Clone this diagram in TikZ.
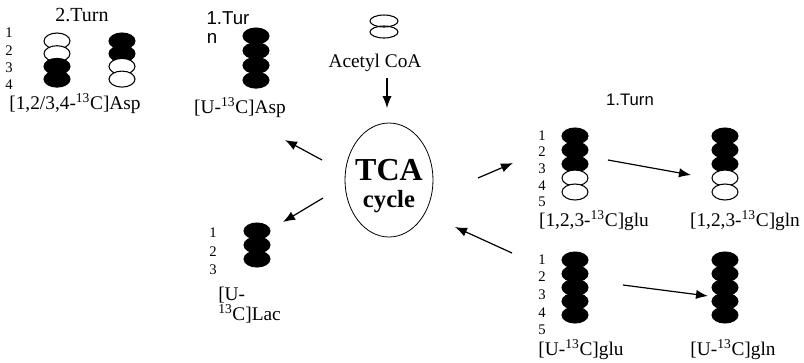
\documentclass[tikz,border=0pt]{standalone}
\usepackage{fontspec}
\setmainfont{Liberation Serif}
\setsansfont{Liberation Sans}
\usepackage{tikz}
\usetikzlibrary{arrows.meta,shapes.geometric}
\newcommand{\iso}{\textsuperscript{13}}
\newcommand{\chain}[4]{\foreach \f [count=\i from 0] in {#4} {\draw[atom,fill=\f] (#1,#2+\i*#3) ellipse (13 and 8);}}
\tikzset{
  atom/.style={draw=black,line width=0.8pt},
  arr/.style={-{Latex[length=9pt,width=7pt]},line width=0.9pt},
  lbl/.style={font=\fontsize{14.5}{15}\selectfont,inner sep=0pt},
  num/.style={font=\fontsize{11}{13}\selectfont,inner sep=0pt},
  turn/.style={font=\sffamily\fontsize{13}{15}\selectfont,inner sep=0pt}
}

\begin{document}
\begin{tikzpicture}[x=0.75pt,y=-0.75pt]
\useasboundingbox (0,0) rectangle (804,362);
\node[lbl,font=\rmfamily\fontsize{15}{17}\selectfont] (turnTwo) at (82,15) {2.Turn};
\foreach \n/\y in {1/33,2/51,3/68,4/85} {\node[num] (asp-\n) at (9,\y) {\n};}
\chain{57}{41}{12.7}{white,white,black,black} \chain{122}{41}{12.7}{black,black,white,white}
\node[lbl] (aspTwoLbl) at (75,104) {[1,2/3,4-\iso C]Asp};
\node[turn,font=\sffamily\fontsize{14}{15}\selectfont] (turnOneA) at (228,18) {1.Tur}; \node[turn,font=\sffamily\fontsize{14}{15}\selectfont] (turnOneB) at (212,38) {n};
\chain{256}{36}{14.7}{black,black,black,black}
\node[lbl] (aspULbl) at (240,108) {[U-\iso C]Asp};
\draw[atom] (384,21) ellipse (14 and 6); \draw[atom] (384,32) ellipse (14 and 6);
\node[lbl] (acetyl) at (375,63) {Acetyl CoA};
\node[draw,ellipse,line width=0.6pt,minimum width=66pt,minimum height=85.5pt] (tca) at (389,180) {};
\node[font=\bfseries\fontsize{24}{26}\selectfont,inner sep=0pt] (tcaTop) at (389,170) {TCA};
\node[font=\bfseries\fontsize{18.5}{20}\selectfont,inner sep=0pt] (tcaBot) at (389,202) {cycle};
\foreach \n/\y in {1/233,2/252,3/270} {\node[num] (lac-\n) at (213,\y) {\n};}
\chain{257}{231}{14}{black,black,black}
\node[lbl,align=left,anchor=west] (lacLbl) at (218,305) {[U-\\\iso C]Lac};
\node[turn,font=\sffamily\fontsize{12.5}{15}\selectfont] (turnOneC) at (630,100) {1.Turn};
\foreach \n/\y in {1/136,2/152,3/169,4/186,5/202} {\node[num] (glu-\n) at (542,\y) {\n};}
\chain{575}{136}{14}{black,black,black,white,white} \chain{725}{136}{14}{black,black,black,white,white}
\node[lbl] (gluLbl) at (594,221) {[1,2,3-\iso C]glu}; \node[lbl] (glnLbl) at (745,221) {[1,2,3-\iso C]gln};
\foreach \n/\y in {1/260,2/277,3/295,4/313,5/330} {\node[num] (uglu-\n) at (542,\y) {\n};}
\chain{575}{260}{13.75}{black,black,black,black,black} \chain{725}{260}{13.75}{black,black,black,black,black}
\node[lbl] (ugluLbl) at (581,350) {[U-\iso C]glu}; \node[lbl] (uglnLbl) at (733,350) {[U-\iso C]gln};
\coordinate (acA) at (387,78); \coordinate (acB) at (387,108);
\coordinate (aspA) at (322,160); \coordinate (aspB) at (285,140);
\coordinate (lacA) at (323,198); \coordinate (lacB) at (283,222);
\coordinate (gluA) at (478,178); \coordinate (gluB) at (513,163);
\coordinate (uA) at (512,253); \coordinate (uB) at (455,227);
\coordinate (glnA) at (608,160); \coordinate (glnB) at (691,175);
\coordinate (uglnA) at (623,285); \coordinate (uglnB) at (708,296);
\draw[arr] (acA) -- (acB); \draw[arr] (aspA) -- (aspB); \draw[arr] (lacA) -- (lacB);
\draw[arr] (gluA) -- (gluB); \draw[arr] (uA) -- (uB);
\draw[arr] (glnA) -- (glnB); \draw[arr] (uglnA) -- (uglnB);
\end{tikzpicture}
\end{document}
